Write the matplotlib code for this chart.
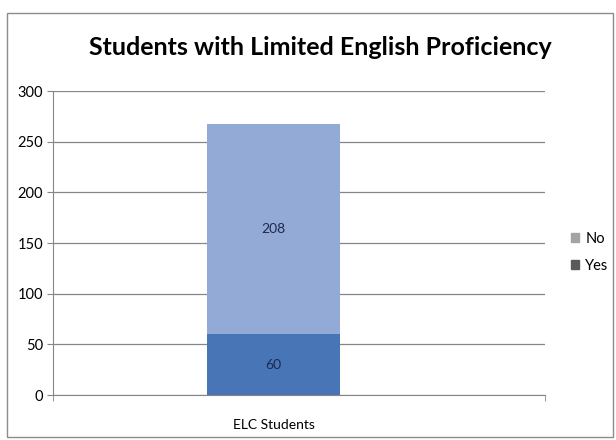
import matplotlib.pyplot as plt
from matplotlib.patches import Rectangle, Patch

plt.rcParams['font.family'] = ['Lato', 'DejaVu Sans']

category = ['ELC Students']
series = ['Yes', 'No']
yes_vals = [60]
no_vals = [208]

col_yes = '#4775b5'
col_no = '#93a9d6'

fig = plt.figure(figsize=(6.16, 4.4), dpi=100)
ax = fig.add_axes([0.086, 0.102, 0.799, 0.691])

x = [0]
ax.bar(x, yes_vals, width=0.27, color=col_yes, zorder=3)
ax.bar(x, no_vals, width=0.27, bottom=yes_vals, color=col_no, zorder=3)

for xi, y, n in zip(x, yes_vals, no_vals):
    ax.text(xi, y / 2, str(y), ha='center', va='center', fontsize=10, color='#1c2a4e', zorder=4)
    ax.text(xi, y + n / 2, str(n), ha='center', va='center', fontsize=10, color='#1c2a4e', zorder=4)

ax.set_xlim(-0.448, 0.552)
ax.set_ylim(0, 300)
ax.set_yticks(range(0, 301, 50))
ax.set_xticks(x)
ax.set_xticklabels(category, fontsize=10)
ax.set_xticks([-0.448, 0.552], minor=True)
ax.tick_params(axis='x', which='major', length=0, pad=17)
ax.tick_params(axis='x', which='minor', length=4, color='#868686')
ax.tick_params(axis='y', length=4, color='#868686', labelsize=10.5, pad=3)
ax.grid(axis='y', color='#868686', linewidth=0.9, zorder=0)
for s in ['top', 'right']:
    ax.spines[s].set_visible(False)
for s in ['left', 'bottom']:
    ax.spines[s].set_color('#868686')

fig.text(0.52, 0.893, 'Students with Limited English Proficiency', ha='center', va='center',
         fontsize=18, fontweight='bold')

handles = [Patch(color='#a4a4a4', label='No'), Patch(color='#5a5a5a', label='Yes')]
fig.legend(handles=handles, loc='center left', bbox_to_anchor=(0.905, 0.427), frameon=False,
           fontsize=10.5, handlelength=0.6, handleheight=0.6, handletextpad=0.4, labelspacing=0.9)

fig.patches.append(Rectangle((7 / 616, 3 / 440), 606 / 616, 424 / 440, transform=fig.transFigure,
                             fill=False, edgecolor='#8c8c8c', linewidth=1))

fig.savefig('out.png', dpi=100)
